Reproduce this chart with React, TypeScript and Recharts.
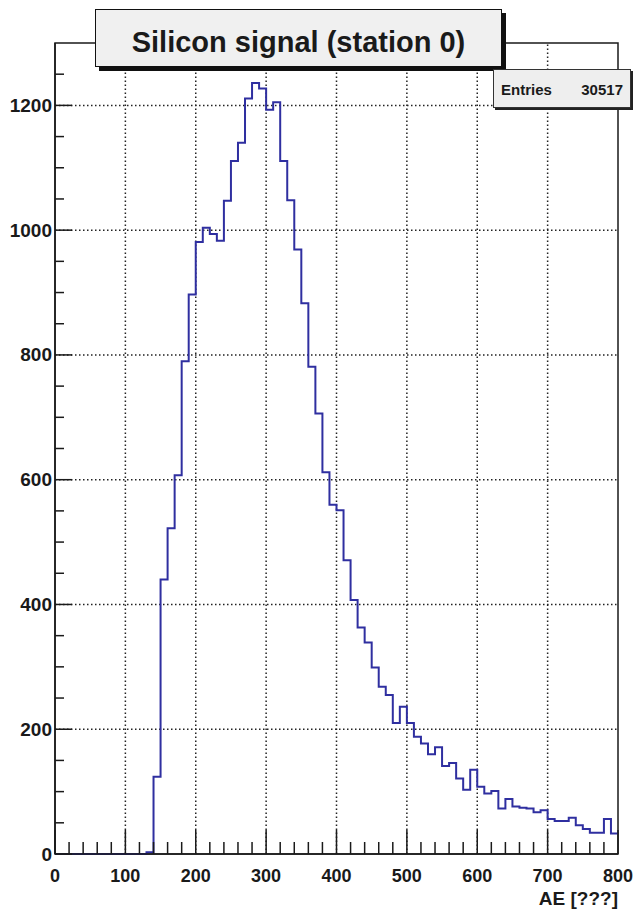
import { Line, LineChart, ReferenceArea, ReferenceLine, XAxis, YAxis } from 'recharts'

// histogram: 80 bins of width 10 from 0 to 800
const binWidth = 10
const binCounts = [
  0, 0, 0, 0, 0, 0, 0, 0, 0, 0, 0, 0, 0, 3, 124, 440, 522, 607, 790, 897,
  981, 1004, 994, 983, 1047, 1111, 1140, 1211, 1236, 1227, 1193, 1205, 1111, 1048, 969, 883, 781, 706, 612, 560,
  551, 471, 407, 363, 339, 299, 268, 255, 210, 236, 210, 188, 177, 160, 171, 141, 146, 121, 103, 135,
  108, 97, 101, 73, 88, 76, 74, 73, 67, 70, 56, 53, 53, 58, 46, 40, 34, 34, 56, 33,
]
const entries = 30517

const xGrid = [100, 200, 300, 400, 500, 600, 700]
const yGrid = [200, 400, 600, 800, 1000, 1200]
const xTicks = Array.from({ length: 41 }, (_, i) => i * 20)
const yTicks = Array.from({ length: 26 }, (_, i) => i * 50)

const data = binCounts.map((count, i) => ({ edge: i * binWidth, count }))
data.push({ edge: binCounts.length * binWidth, count: binCounts[binCounts.length - 1] })

const font = '"Liberation Sans", Arial, Helvetica, sans-serif'
const ink = '#1a1a1a'

const renderXTick = ({ x, y, payload }: any) => {
  const v = payload.value
  const major = v % 100 === 0
  return (
    <g key={'xt' + v}>
      <line x1={x} y1={y} x2={x} y2={y - (major ? 24 : 12)} stroke={ink} strokeWidth={1.5} />
      {major && (
        <text x={x} y={y + 28} textAnchor="middle" fontSize={18} fontWeight="bold" fontFamily={font} fill={ink}>
          {v}
        </text>
      )}
    </g>
  )
}

const renderYTick = ({ x, y, payload }: any) => {
  const v = payload.value
  const major = v % 200 === 0
  return (
    <g key={'yt' + v}>
      <line x1={x} y1={y} x2={x + (major ? 17 : 9)} y2={y} stroke={ink} strokeWidth={1.5} />
      {major && (
        <text x={x - 3} y={y + 6.5} textAnchor="end" fontSize={19} fontWeight="bold" fontFamily={font} fill={ink}>
          {v}
        </text>
      )}
    </g>
  )
}

export default function App() {
  return (
    <div style={{ position: 'absolute', left: 0, top: 0, width: 636, height: 912, background: '#fff', fontFamily: font }}>
      <LineChart width={636} height={912} data={data} margin={{ top: 43, right: 18, bottom: 28, left: 15 }}>
        <XAxis
          dataKey="edge"
          type="number"
          domain={[0, 800]}
          ticks={xTicks}
          interval={0}
          height={30}
          tickSize={0}
          tickMargin={0}
          tickLine={false}
          axisLine={{ stroke: ink, strokeWidth: 1.5 }}
          tick={renderXTick}
        />
        <YAxis
          type="number"
          domain={[0, 1300]}
          ticks={yTicks}
          interval={0}
          width={40}
          tickSize={0}
          tickMargin={0}
          tickLine={false}
          axisLine={{ stroke: ink, strokeWidth: 1.5 }}
          tick={renderYTick}
        />
        {xGrid.map((v) => (
          <ReferenceLine key={'x' + v} x={v} stroke="#222" strokeWidth={1.5} strokeDasharray="1.5 2.5" />
        ))}
        {yGrid.map((v) => (
          <ReferenceLine key={'y' + v} y={v} stroke="#222" strokeWidth={1.5} strokeDasharray="1.5 2.5" />
        ))}
        <ReferenceArea x1={0} x2={800} y1={0} y2={1300} fill="none" stroke={ink} strokeWidth={1.5} />
        <Line
          dataKey="count"
          type="stepAfter"
          stroke="#2f2fa0"
          strokeWidth={2}
          dot={false}
          activeDot={false}
          isAnimationActive={false}
        />
      </LineChart>

      <div
        style={{
          position: 'absolute',
          left: 95,
          top: 9,
          width: 405,
          height: 56,
          background: '#f0f0f0',
          border: '1.5px solid #111',
          boxShadow: '4px 4px 0 #111',
          textAlign: 'center',
          fontSize: 29,
          fontWeight: 'bold',
          lineHeight: '29px',
          color: ink,
          boxSizing: 'content-box',
        }}
      >
        <div style={{ paddingTop: 18 }}>Silicon signal (station 0)</div>
      </div>

      <div
        style={{
          position: 'absolute',
          left: 493,
          top: 69,
          width: 136,
          height: 37,
          background: '#eeeeee',
          border: '1px solid #333',
          boxShadow: '2px 2px 0 #222',
          fontSize: 15,
          fontWeight: 'bold',
          color: ink,
        }}
      >
        <span style={{ position: 'absolute', left: 7, top: 11 }}>Entries</span>
        <span style={{ position: 'absolute', right: 7, top: 11 }}>{entries}</span>
      </div>

      <div
        style={{
          position: 'absolute',
          right: 636 - 618,
          top: 889,
          fontSize: 19,
          fontWeight: 'bold',
          color: ink,
          lineHeight: '19px',
        }}
      >
        AE [???]
      </div>
    </div>
  )
}
